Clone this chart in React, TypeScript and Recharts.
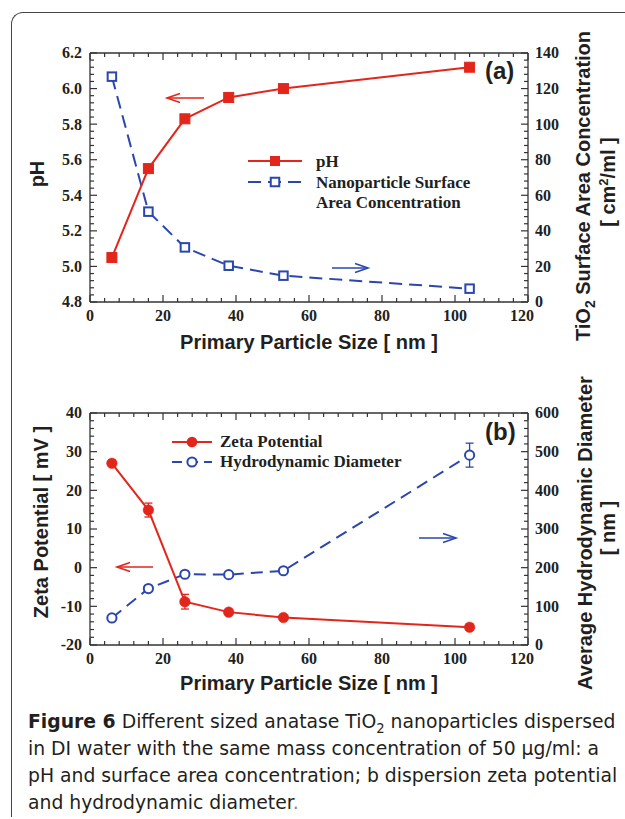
import React from 'react';
import { LineChart, Line, XAxis, YAxis, ErrorBar } from 'recharts';

// ---------- data ----------
const particleSizes = [6, 16, 26, 38, 53, 104];
const phValues = [5.05, 5.55, 5.83, 5.95, 6.0, 6.12];
const surfaceAreaConc = [126.7, 50.8, 30.7, 20.4, 14.8, 7.5];
const zetaPotential = [27.0, 14.9, -8.8, -11.5, -12.9, -15.4];
const zetaError = [0.8, 1.8, 1.9, 0.6, 0.5, 0.8];
const hydroDiameter = [70, 146, 183, 182, 192, 491];
const hydroError = [0, 0, 0, 0, 0, 31];

// ---------- tick labels ----------
const xTicksMajor = [0, 20, 40, 60, 80, 100, 120];
const phTicksMajor = [4.8, 5.0, 5.2, 5.4, 5.6, 5.8, 6.0, 6.2];
const areaTicksMajor = [0, 20, 40, 60, 80, 100, 120, 140];
const zetaTicksMajor = [-20, -10, 0, 10, 20, 30, 40];
const diamTicksMajor = [0, 100, 200, 300, 400, 500, 600];

const RED = '#e2261c';
const BLUE = '#2b47ad';
const AXIS = '#333333';
const TXT = '#231f20';
const TICK_FONT = '"Liberation Serif", "Times New Roman", serif';
const TITLE_FONT = '"Liberation Sans", Arial, sans-serif';

function subdivide(major: number[], parts = 5): number[] {
  const out: number[] = [];
  for (let i = 0; i < major.length - 1; i++) {
    const a = major[i];
    const b = major[i + 1];
    for (let k = 0; k < parts; k++) out.push(Number((a + ((b - a) * k) / parts).toFixed(6)));
  }
  out.push(major[major.length - 1]);
  return out;
}
const isMajor = (v: number, major: number[]) => major.some((m) => Math.abs(m - v) < 1e-6);

type Side = 'left' | 'right' | 'bottom' | 'top';
function makeTick(side: Side, major: number[], fmt?: (v: number) => string) {
  const last = major[major.length - 1];
  return (props: any) => {
    const { x, y, payload, index } = props;
    const v = payload.value as number;
    const maj = isMajor(v, major);
    const len = maj ? 7 : 4;
    let line: any = null;
    let text: any = null;
    const tp = { fontFamily: TICK_FONT, fontWeight: 700, fontSize: 16, fill: TXT } as any;
    if (side === 'left') {
      line = <line x1={x} y1={y} x2={x + len} y2={y} />;
      if (maj && fmt) text = <text x={x - 8} y={y} dy="0.34em" textAnchor="end" {...tp}>{fmt(v)}</text>;
    } else if (side === 'right') {
      line = <line x1={x} y1={y} x2={x - len} y2={y} />;
      if (maj && fmt) text = <text x={x + 7} y={y} dy="0.34em" textAnchor="start" {...tp}>{fmt(v)}</text>;
    } else if (side === 'bottom') {
      line = <line x1={x} y1={y} x2={x} y2={y - len} />;
      const shift = Math.abs(v - last) < 1e-6 ? -6 : 0;
      if (maj && fmt) text = <text x={x + shift} y={y + 19} textAnchor="middle" {...tp}>{fmt(v)}</text>;
    } else {
      line = <line x1={x} y1={y} x2={x} y2={y + len} />;
    }
    return (
      <g key={`t-${side}-${index}`}>
        <g stroke={AXIS} strokeWidth={1.2}>{line}</g>
        {text}
      </g>
    );
  };
}

const squareDot = (fill: string, stroke: string, size: number, sw: number) => (p: any) => (
  <rect key={`sq-${fill}-${p.index}`} x={p.cx - size / 2} y={p.cy - size / 2} width={size} height={size} fill={fill} stroke={stroke} strokeWidth={sw} />
);
const circleDot = (fill: string, stroke: string, r: number, sw: number) => (p: any) => (
  <circle key={`ci-${fill}-${p.index}`} cx={p.cx} cy={p.cy} r={r} fill={fill} stroke={stroke} strokeWidth={sw} />
);

const dataA = particleSizes.map((s, i) => ({ size: s, ph: phValues[i], area: surfaceAreaConc[i] }));
const dataB = particleSizes.map((s, i) => ({
  size: s,
  zeta: zetaPotential[i],
  zErr: zetaError[i],
  diam: hydroDiameter[i],
  dErr: hydroError[i],
}));

const xTicksAll = subdivide(xTicksMajor);
const axisLine = { stroke: AXIS, strokeWidth: 1.3 };

function Panel({ top, data, leftMajor, rightMajor, leftDomain, rightDomain, leftFmt, children, xHeight }: any) {
  return (
    <div style={{ position: 'absolute', left: 0, top }}>
      <LineChart width={625} height={360} data={data} margin={{ top: 52, right: 0, bottom: 0, left: 0 }}>
        <XAxis xAxisId="bottom" dataKey="size" type="number" domain={[0, 120]} ticks={xTicksAll} interval={0}
          tickSize={0} tickMargin={0} tickLine={false} axisLine={axisLine} height={xHeight} allowDataOverflow
          tick={makeTick('bottom', xTicksMajor, (v) => String(v))} />
        <XAxis xAxisId="top" orientation="top" dataKey="size" type="number" domain={[0, 120]} ticks={xTicksAll} interval={0}
          tickSize={0} tickMargin={0} tickLine={false} axisLine={axisLine} height={1} allowDataOverflow
          tick={makeTick('top', xTicksMajor)} />
        <YAxis yAxisId="left" orientation="left" type="number" domain={leftDomain} ticks={subdivide(leftMajor)} interval={0}
          tickSize={0} tickMargin={0} tickLine={false} axisLine={axisLine} width={90} allowDataOverflow
          tick={makeTick('left', leftMajor, leftFmt)} />
        <YAxis yAxisId="right" orientation="right" type="number" domain={rightDomain} ticks={subdivide(rightMajor)} interval={0}
          tickSize={0} tickMargin={0} tickLine={false} axisLine={axisLine} width={97} allowDataOverflow
          tick={makeTick('right', rightMajor, (v) => String(v))} />
        {children}
      </LineChart>
    </div>
  );
}

function Arrow({ x1, x2, y, color }: any) {
  const dir = x2 > x1 ? 1 : -1;
  return (
    <g stroke={color} strokeWidth={1.6} fill="none">
      <line x1={x1} y1={y} x2={x2} y2={y} />
      <polyline points={`${x2 - dir * 13},${y - 4.5} ${x2},${y} ${x2 - dir * 13},${y + 4.5}`} />
    </g>
  );
}

export default function App() {
  const legendFont = { fontFamily: TICK_FONT, fontWeight: 700, fontSize: 17, fill: TXT } as any;
  const titleFont = { fontFamily: TITLE_FONT, fontWeight: 700, fontSize: 20, fill: TXT } as any;
  return (
    <div style={{ position: 'absolute', left: 0, top: 0, width: 625, height: 819, background: '#fff', overflow: 'hidden' }}>
      <div style={{ position: 'absolute', left: 11, top: 12, width: 640, height: 804, borderTop: '1.3px solid #444', borderLeft: '1.3px solid #444', borderTopLeftRadius: 12 }} />

      <Panel top={0} data={dataA} leftMajor={phTicksMajor} rightMajor={areaTicksMajor} leftDomain={[4.8, 6.2]} rightDomain={[0, 140]}
        leftFmt={(v: number) => v.toFixed(1)} xHeight={58}>
        <Line xAxisId="bottom" yAxisId="right" type="linear" dataKey="area" stroke={BLUE} strokeWidth={2} strokeDasharray="13 7"
          dot={squareDot('#ffffff', BLUE, 8.5, 2)} activeDot={false} isAnimationActive={false} />
        <Line xAxisId="bottom" yAxisId="left" type="linear" dataKey="ph" stroke={RED} strokeWidth={2}
          dot={squareDot(RED, RED, 10, 1)} activeDot={false} isAnimationActive={false} />
      </Panel>

      <Panel top={360} data={dataB} leftMajor={zetaTicksMajor} rightMajor={diamTicksMajor} leftDomain={[-20, 40]} rightDomain={[0, 600]}
        leftFmt={(v: number) => String(v)} xHeight={75}>
        <Line xAxisId="bottom" yAxisId="right" type="linear" dataKey="diam" stroke={BLUE} strokeWidth={2} strokeDasharray="12 7"
          dot={circleDot('#ffffff', BLUE, 4.6, 2)} activeDot={false} isAnimationActive={false}>
          <ErrorBar dataKey="dErr" width={4} stroke={BLUE} strokeWidth={1.3} direction="y" />
        </Line>
        <Line xAxisId="bottom" yAxisId="left" type="linear" dataKey="zeta" stroke={RED} strokeWidth={2}
          dot={circleDot(RED, RED, 5.3, 0.5)} activeDot={false} isAnimationActive={false}>
          <ErrorBar dataKey="zErr" width={4} stroke={RED} strokeWidth={1.3} direction="y" />
        </Line>
      </Panel>

      <svg width={625} height={819} style={{ position: 'absolute', left: 0, top: 0, pointerEvents: 'none' }}>
        {/* panel a annotations */}
        <text x={485} y={79} fontFamily={TITLE_FONT} fontWeight={700} fontSize={24} fill={TXT}>(a)</text>
        <Arrow x1={204} x2={167} y={98} color={RED} />
        <Arrow x1={332} x2={368} y={268} color={BLUE} />
        <line x1={248} y1={161} x2={302} y2={161} stroke={RED} strokeWidth={2} />
        <rect x={270} y={156} width={10} height={10} fill={RED} />
        <line x1={248} y1={182} x2={302} y2={182} stroke={BLUE} strokeWidth={2} strokeDasharray="13 7" />
        <rect x={270.75} y={177.75} width={8.5} height={8.5} fill="#fff" stroke={BLUE} strokeWidth={2} />
        <text x={316} y={167} {...legendFont}>pH</text>
        <text x={316} y={188} {...legendFont}>Nanoparticle Surface</text>
        <text x={316} y={208} {...legendFont}>Area Concentration</text>

        {/* panel b annotations */}
        <text x={485} y={440} fontFamily={TITLE_FONT} fontWeight={700} fontSize={24} fill={TXT}>(b)</text>
        <Arrow x1={153} x2={117} y={567} color={RED} />
        <Arrow x1={419} x2={456} y={538} color={BLUE} />
        <line x1={172} y1={442} x2={212} y2={442} stroke={RED} strokeWidth={2} />
        <circle cx={192} cy={442} r={5.3} fill={RED} />
        <line x1={172} y1={462} x2={212} y2={462} stroke={BLUE} strokeWidth={2} strokeDasharray="10 6" />
        <circle cx={192} cy={462} r={4.6} fill="#fff" stroke={BLUE} strokeWidth={2} />
        <text x={220} y={447} {...legendFont}>Zeta Potential</text>
        <text x={220} y={467} {...legendFont}>Hydrodynamic Diameter</text>

        {/* axis titles */}
        <text x={309} y={349} textAnchor="middle" {...titleFont}>Primary Particle Size [ nm ]</text>
        <text x={309} y={690} textAnchor="middle" {...titleFont}>Primary Particle Size [ nm ]</text>
        <text x={44} y={174} textAnchor="middle" transform="rotate(-90 44 174)" {...titleFont}>pH</text>
        <text x={48} y={522} textAnchor="middle" transform="rotate(-90 48 522)" {...titleFont}>Zeta Potential [ mV ]</text>
        <text x={590} y={186} textAnchor="middle" transform="rotate(-90 590 186)" {...titleFont}>
          TiO<tspan fontSize={14} dy={5}>2</tspan><tspan dy={-5}> Surface Area Concentration</tspan>
        </text>
        <text x={615} y={182} textAnchor="middle" transform="rotate(-90 615 182)" {...titleFont}>
          [ cm<tspan fontSize={13} dy={-7}>2</tspan><tspan dy={7}>/ml ]</tspan>
        </text>
        <text x={592} y={533} textAnchor="middle" transform="rotate(-90 592 533)" {...titleFont}>Average Hydrodynamic Diameter</text>
        <text x={615} y={528} textAnchor="middle" transform="rotate(-90 615 528)" {...titleFont}>[ nm ]</text>
      </svg>

      <div style={{ position: 'absolute', left: 28, top: 708, width: 600, fontFamily: '"DejaVu Sans", sans-serif', fontSize: 18.8, lineHeight: '27px', color: TXT, whiteSpace: 'nowrap' }}>
        <b>Figure 6</b> Different sized anatase TiO<sub style={{ fontSize: '0.7em', lineHeight: 0 }}>2</sub> nanoparticles dispersed<br />
        in DI water with the same mass concentration of 50 µg/ml: a<br />
        pH and surface area concentration; b dispersion zeta potential<br />
        and hydrodynamic diameter<span style={{ color: '#888' }}>.</span>
      </div>
    </div>
  );
}
